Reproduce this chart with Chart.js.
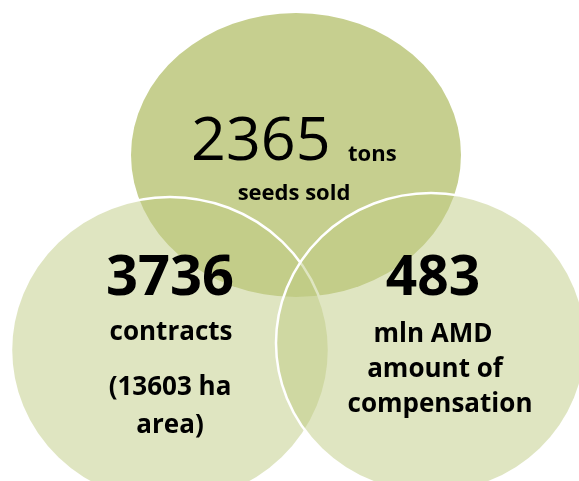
<!DOCTYPE html>
<html>
<head>
<meta charset="utf-8">
<script src="https://cdn.jsdelivr.net/npm/chart.js@4"></script>
<style>
  html, body { margin: 0; padding: 0; background: #ffffff; }
  #wrap { width: 579px; height: 481px; }
</style>
</head>
<body>
<div id="wrap"><canvas id="venn" width="579" height="481"></canvas></div>
<script>
// values shown in the diagram
const figures = ['2365', '3736', '483']
const units = ['tons', 'contracts', 'mln AMD']
const notes = [['seeds sold'], ['(13603 ha', 'area)'], ['amount of', 'compensation']]

// layout (in a 579 x 481 units space)
const centerX = [296, 170, 431]
const centerY = [155, 350, 343]
const radiusX = [165, 159, 155]
const radiusY = [142, 153, 150]
const fills = ['rgba(198,207,143,1)', 'rgba(191,203,131,0.5)', 'rgba(191,203,131,0.5)']
const borders = [0, 2.5, 2.5]

function makeBlob(i) {
    const c = document.createElement('canvas')
    c.width = radiusX[i] * 2 + 6
    c.height = radiusY[i] * 2 + 6
    const g = c.getContext('2d')
    g.beginPath()
    g.ellipse(c.width / 2, c.height / 2, radiusX[i], radiusY[i], 0, 0, Math.PI * 2)
    g.fillStyle = fills[i]
    g.fill()
    if (borders[i] > 0) {
        g.lineWidth = borders[i]
        g.strokeStyle = '#ffffff'
        g.stroke()
    }
    return c
}

// top circle first, then left, then right on top
const datasets = figures.map((f, i) => ({
    label: units[i],
    data: [{x: centerX[i], y: centerY[i]}],
    pointStyle: makeBlob(i),
    pointRadius: 1,
    pointHoverRadius: 1,
    order: 3 - i,
    clip: false
}))

const vennText = {
    id: 'vennText',
    afterDatasetsDraw(chart) {
        const ctx = chart.ctx
        const sx = chart.scales.x
        const sy = chart.scales.y
        const px = v => sx.getPixelForValue(v)
        const py = v => sy.getPixelForValue(v)
        const fam = '"Open Sans", sans-serif'
        ctx.save()
        ctx.fillStyle = '#000000'
        ctx.textBaseline = 'alphabetic'

        // top circle
        ctx.textAlign = 'left'
        ctx.font = '400 61px ' + fam
        ctx.fillText(figures[0], px(191), py(160))
        ctx.font = '700 22px ' + fam
        ctx.fillText(units[0], px(348), py(161))
        ctx.textAlign = 'center'
        ctx.font = '700 22px ' + fam
        ctx.fillText(notes[0][0], px(294), py(200))

        // left circle
        ctx.font = '700 56px ' + fam
        ctx.fillText(figures[1], px(170), py(295))
        ctx.font = '700 26px ' + fam
        ctx.fillText(units[1], px(171), py(340))
        ctx.fillText(notes[1][0], px(170), py(395))
        ctx.fillText(notes[1][1], px(170), py(433))

        // right circle
        ctx.font = '700 55px ' + fam
        ctx.fillText(figures[2], px(433), py(295))
        ctx.font = '700 26px ' + fam
        ctx.fillText(units[2], px(433), py(342))
        ctx.fillText(notes[2][0], px(435), py(377))
        ctx.fillText(notes[2][1], px(440), py(412))
        ctx.restore()
    }
}

const vennChart = new Chart(document.getElementById('venn'), {
    type: 'scatter',
    data: { datasets: datasets },
    options: {
        responsive: false,
        animation: false,
        devicePixelRatio: 1,
        events: [],
        layout: { padding: 0, autoPadding: false },
        plugins: {
            legend: { display: false },
            tooltip: { enabled: false }
        },
        scales: {
            x: { type: 'linear', min: 0, max: 579, display: false },
            y: { type: 'linear', min: 0, max: 481, reverse: true, display: false }
        }
    },
    plugins: [vennText]
})
</script>
</body>
</html>
